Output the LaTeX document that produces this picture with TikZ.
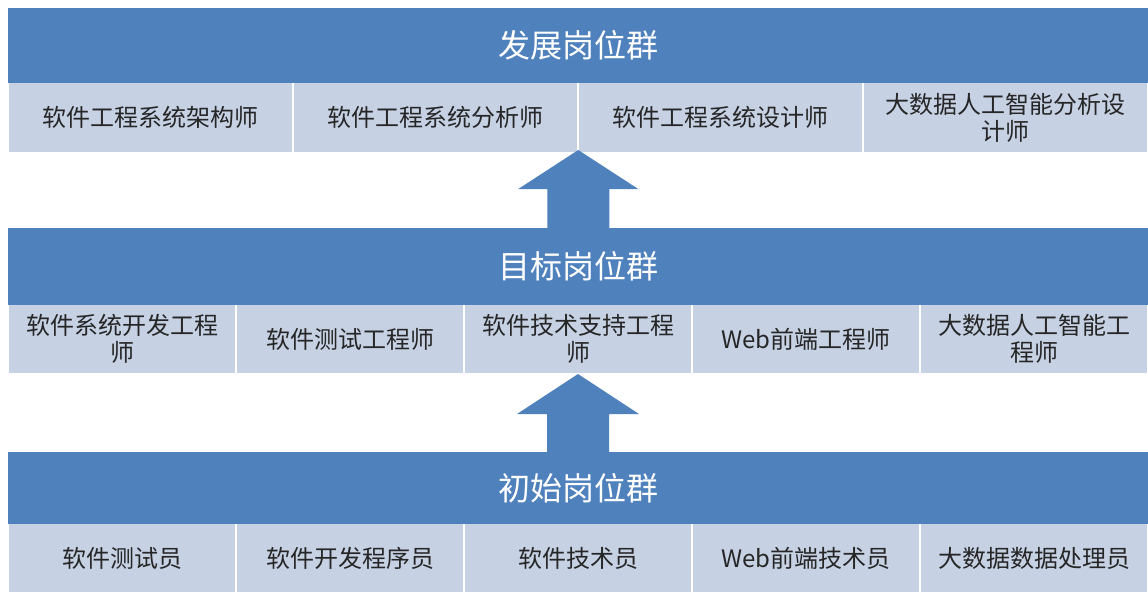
\documentclass[tikz,border=0pt]{standalone}
\usepackage{fontspec}
\setmainfont{Noto Sans CJK SC}
\usetikzlibrary{calc}
\definecolor{bandblue}{HTML}{4F81BD}
\definecolor{celllight}{HTML}{C6D1E4}
\definecolor{celltext}{HTML}{262626}
\tikzset{
  band/.style={fill=bandblue, draw=none, minimum width=1140pt, inner sep=0pt, outer sep=0pt,
    text=white, font=\fontsize{32}{36}\selectfont},
  cell/.style={fill=celllight, draw=none, inner sep=0pt, outer sep=0pt, minimum height=68pt,
    text=celltext, align=center, font=\fontsize{24}{27}\selectfont},
  upblock/.style={fill=bandblue, draw=none}
}
\begin{document}
\begin{tikzpicture}[x=1pt,y=-1pt]
\useasboundingbox (0,0) rectangle (1148,592);
% top group
\node[band, minimum height=75pt] (b1) at (578,45.5) {发展岗位群};
\foreach \i/\t in {1/软件工程系统架构师,2/软件工程系统分析师,3/软件工程系统设计师,4/大数据人工智能分析设\\计师}{
  \node[cell, minimum width=283.5pt, minimum height=69pt] (r1c\i) at ({8+285*(\i-0.5)},117.5) {\t};
}
% middle group
\node[band, minimum height=77pt] (b2) at (578,266.5) {目标岗位群};
\foreach \i/\t in {1/软件系统开发工程\\师,2/软件测试工程师,3/软件技术支持工程\\师,4/Web前端工程师,5/大数据人工智能工\\程师}{
  \node[cell, minimum width=226.5pt] (r2c\i) at ({8+228*(\i-0.5)},339) {\t};
}
% bottom group
\node[band, minimum height=72pt] (b3) at (578,488) {初始岗位群};
\foreach \i/\t in {1/软件测试员,2/软件开发程序员,3/软件技术员,4/Web前端技术员,5/大数据数据处理员}{
  \node[cell, minimum width=226.5pt] (r3c\i) at ({8+228*(\i-0.5)},558) {\t};
}
% block arrows
\coordinate (a1tip) at ($(r1c2.south east)+(1,-2)$);
\coordinate (a1base) at (a1tip |- b2.north);
\fill[upblock] (a1tip) -- ($(a1tip)+(60,39)$) -- ($(a1tip)+(31,39)$) -- ($(a1base)+(31,0)$)
  -- ($(a1base)+(-31,0)$) -- ($(a1tip)+(-31,39)$) -- ($(a1tip)+(-60,39)$) -- cycle;
\coordinate (a2tip) at ($(r2c3.south)+(0,1)$);
\coordinate (a2base) at (a2tip |- b3.north);
\fill[upblock] (a2tip) -- ($(a2tip)+(61,40)$) -- ($(a2tip)+(31,40)$) -- ($(a2base)+(31,0)$)
  -- ($(a2base)+(-31,0)$) -- ($(a2tip)+(-31,40)$) -- ($(a2tip)+(-61,40)$) -- cycle;
\end{tikzpicture}
\end{document}
